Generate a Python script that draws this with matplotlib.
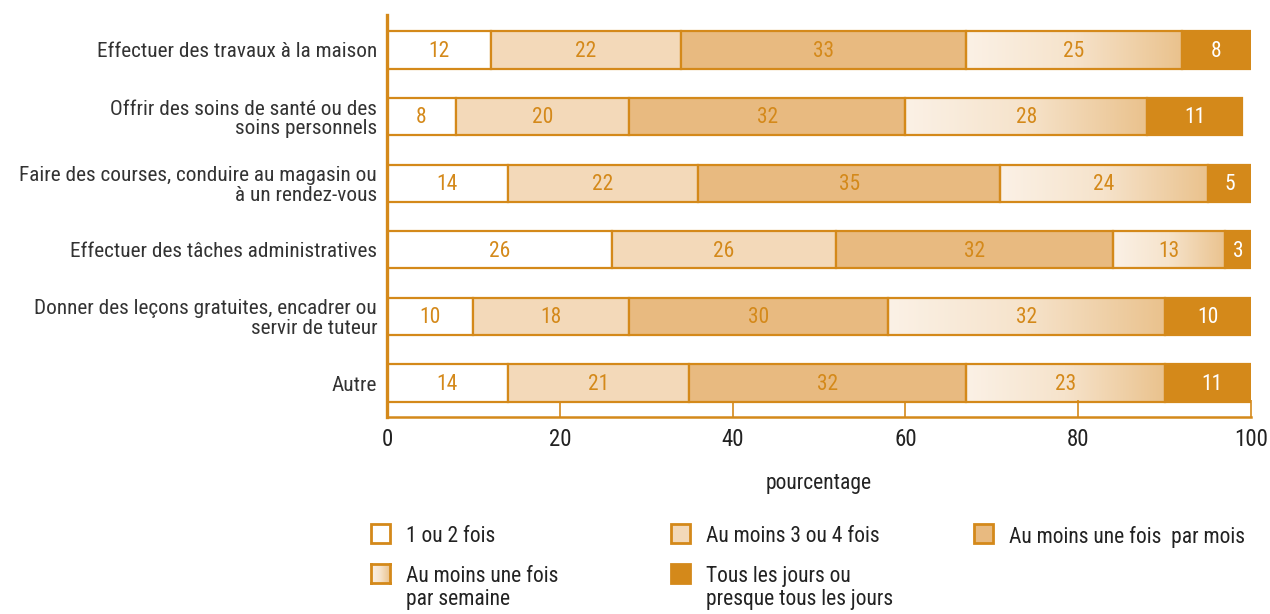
import numpy as np
import matplotlib
matplotlib.use("Agg")
import matplotlib.pyplot as plt
import matplotlib.colors as mcolors
from matplotlib.patches import Rectangle

plt.rcParams['font.family'] = ['Roboto Condensed', 'DejaVu Sans']

activites = [
    "Effectuer des travaux à la maison",
    "Offrir des soins de santé ou des\nsoins personnels",
    "Faire des courses, conduire au magasin ou\nà un rendez-vous",
    "Effectuer des tâches administratives",
    "Donner des leçons gratuites, encadrer ou\nservir de tuteur",
    "Autre",
]
frequences = [
    "1 ou 2 fois",
    "Au moins 3 ou 4 fois",
    "Au moins une fois  par mois",
    "Au moins une fois\npar semaine",
    "Tous les jours ou\npresque tous les jours",
]
une_ou_deux = [12, 8, 14, 26, 10, 14]
trois_ou_quatre = [22, 20, 22, 26, 18, 21]
par_mois = [33, 32, 35, 32, 30, 32]
par_semaine = [25, 28, 24, 13, 32, 23]
tous_les_jours = [8, 11, 5, 3, 10, 11]

series = [une_ou_deux, trois_ou_quatre, par_mois, par_semaine, tous_les_jours]

orange = '#D4891A'
fills = ['white', '#F3D9B9', '#E8BA80', None, orange]
text_colors = [orange, orange, orange, orange, 'white']
grad_cmap = mcolors.LinearSegmentedColormap.from_list(
    'semaine', ['#FBF1E6', '#F6E3CB', '#EAC28D'])
grad = np.linspace(0, 1, 256).reshape(1, -1)

fig = plt.figure(figsize=(12.7, 6.14), dpi=100)
ax = fig.add_axes([0.3047, 0.3208, 0.6803, 0.6548])

y = np.arange(len(activites))
h = 0.56
left = np.zeros(len(activites))
for k, vals in enumerate(series):
    vals = np.array(vals, dtype=float)
    if fills[k] is None:
        for i in range(len(y)):
            ax.imshow(grad, cmap=grad_cmap, aspect='auto', zorder=1,
                      extent=[left[i], left[i] + vals[i], y[i] + h / 2, y[i] - h / 2])
        ax.barh(y, vals, left=left, height=h, facecolor='none',
                edgecolor=orange, linewidth=1.6, zorder=2)
    else:
        ax.barh(y, vals, left=left, height=h, facecolor=fills[k],
                edgecolor=orange, linewidth=1.6, zorder=2)
    for i in range(len(y)):
        ax.text(left[i] + vals[i] / 2, y[i] + 0.02, f"{int(vals[i])}", ha='center',
                va='center', fontsize=15.5, color=text_colors[k], zorder=3)
    left += vals

ax.set_xlim(0, 100)
ax.set_ylim(5.51, -0.525)
ax.set_yticks(y)
ax.set_yticklabels(activites, fontsize=15.3, color='#333333', linespacing=1.05)
ax.tick_params(axis='y', length=0, pad=7)
ax.set_xticks([0, 20, 40, 60, 80, 100])
ax.tick_params(axis='x', direction='in', length=12, width=1.2, color=orange,
               labelsize=16.5, labelcolor='#222222', pad=8)
ax.set_xlabel("pourcentage", fontsize=15.5, color='#222222', labelpad=16)
for s in ['top', 'right']:
    ax.spines[s].set_visible(False)
ax.spines['left'].set_color(orange)
ax.spines['left'].set_linewidth(2.4)
ax.spines['bottom'].set_color(orange)
ax.spines['bottom'].set_linewidth(1.8)

# legend drawn by hand, row by row
W, H = fig.get_size_inches() * fig.dpi
box = 19
legend_slots = [(371, 524), (671, 524), (974, 524), (371, 564), (671, 564)]
for k, (px, py) in enumerate(legend_slots):
    x0, y0 = px / W, 1 - (py + box) / H
    if fills[k] is None:
        lax = fig.add_axes([x0, y0, box / W, box / H])
        lax.imshow(grad, cmap=grad_cmap, aspect='auto')
        lax.set_xticks([])
        lax.set_yticks([])
        for sp in lax.spines.values():
            sp.set_color(orange)
            sp.set_linewidth(2)
    else:
        fig.add_artist(Rectangle((x0, y0), box / W, box / H, transform=fig.transFigure,
                                 facecolor=fills[k], edgecolor=orange, linewidth=2))
    fig.text((px + box + 16) / W, 1 - (py + 2) / H, frequences[k], ha='left', va='top',
             fontsize=15.5, color='#222222', linespacing=1.15)

fig.savefig("out.png", dpi=100)
